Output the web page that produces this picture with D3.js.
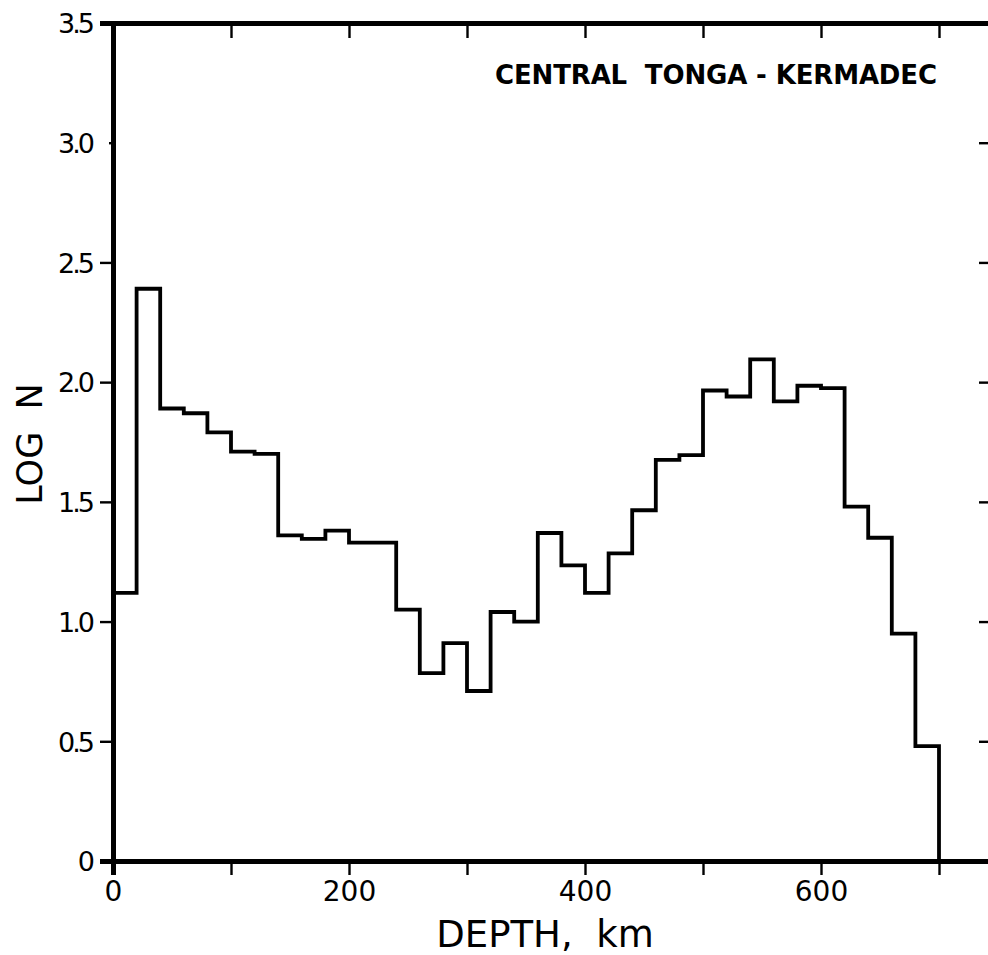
<!DOCTYPE html>
<html>
<head>
<meta charset="utf-8">
<script src="https://cdn.jsdelivr.net/npm/d3@7"></script>
<style>
  html, body { margin: 0; padding: 0; background: #fff; }
  svg { display: block; }
  text { font-family: "DejaVu Sans", sans-serif; fill: #000; white-space: pre; }
</style>
</head>
<body>
<svg id="chart" width="988" height="955"></svg>
<script>
// ---- data ----
const binStarts = [0, 20, 40, 60, 80, 100, 120, 140, 160, 180, 200, 220, 240, 260, 280, 300, 320, 340,
                   360, 380, 400, 420, 440, 460, 480, 500, 520, 540, 560, 580, 600, 620, 640, 660, 680];
const binWidth = 20;
const logN = [1.12, 2.39, 1.89, 1.87, 1.79, 1.71, 1.70, 1.36, 1.345, 1.38, 1.33, 1.33, 1.05, 0.785,
              0.91, 0.71, 1.04, 1.00, 1.37, 1.235, 1.12, 1.285, 1.465, 1.675, 1.695, 1.965, 1.94,
              2.095, 1.92, 1.985, 1.975, 1.48, 1.35, 0.95, 0.48];
const xTicks = [0, 100, 200, 300, 400, 500, 600, 700];
const xTickLabels = ["0", "", "200", "", "400", "", "600", ""];
const yTicks = [0, 0.5, 1.0, 1.5, 2.0, 2.5, 3.0, 3.5];
const yTickLabels = ["0", "0.5", "1.0", "1.5", "2.0", "2.5", "3.0", "3.5"];
const chartTitle = "CENTRAL  TONGA - KERMADEC";
const xTitle = "DEPTH,  km";
const yTitle = "LOG  N";

// ---- layout ----
const svg = d3.select("#chart");
const x = d3.scaleLinear().domain([0, 750]).range([113, 998]);
const y = d3.scaleLinear().domain([0, 3.5]).range([861, 23]);

// histogram step line
const pts = [[0, 0]];
binStarts.forEach((b, i) => pts.push([b, logN[i]]));
const lastEnd = binStarts[binStarts.length - 1] + binWidth;
pts.push([lastEnd, logN[logN.length - 1]]);
pts.push([lastEnd, 0]);
const line = d3.line().x(d => x(d[0])).y(d => y(d[1])).curve(d3.curveStepAfter);
svg.append("path").attr("d", line(pts))
  .attr("fill", "none").attr("stroke", "#000").attr("stroke-width", 3.8)
  .attr("stroke-linejoin", "miter");

// axes
const gBottom = svg.append("g").attr("transform", `translate(0,${y(0)})`)
  .call(d3.axisBottom(x).tickValues(xTicks).tickSize(14).tickPadding(5)
    .tickFormat((d, i) => xTickLabels[i]));
const gTop = svg.append("g").attr("transform", `translate(0,${y(3.5)})`)
  .call(d3.axisTop(x).tickValues(xTicks.slice(1)).tickSize(-15).tickFormat(""));
const gLeft = svg.append("g").attr("transform", `translate(${x(0)},0)`)
  .call(d3.axisLeft(y).tickValues(yTicks).tickSize(13).tickPadding(8)
    .tickFormat((d, i) => yTickLabels[i]));
const gRight = svg.append("g").attr("transform", `translate(${x(750)},0)`)
  .call(d3.axisRight(y).tickValues(yTicks.slice(1, 7)).tickSize(-19).tickFormat(""));

[gBottom, gTop, gLeft, gRight].forEach(g => {
  g.select(".domain").attr("stroke", "#000").attr("stroke-width", 5);
  g.selectAll(".tick line").attr("stroke", "#000").attr("stroke-width", 2.4);
});
// faint 3.0 tick on left axis as in the reference
gLeft.selectAll(".tick").filter(d => d === 3.0).select("line").attr("x2", -4);

gBottom.selectAll(".tick text").attr("font-size", 28).attr("dy", "0.75em");
gLeft.selectAll(".tick text").attr("font-size", 27).attr("letter-spacing", -3).attr("dy", "0.36em");

// titles
svg.append("text").attr("x", 716).attr("y", 84).attr("text-anchor", "middle")
  .attr("font-size", 26).attr("font-weight", "bold")
  .attr("textLength", 442).attr("lengthAdjust", "spacing")
  .text(chartTitle);
svg.append("text").attr("x", 545).attr("y", 947).attr("text-anchor", "middle")
  .attr("font-size", 37).text(xTitle);
svg.append("text").attr("transform", "translate(42,444) rotate(-90)")
  .attr("text-anchor", "middle").attr("font-size", 35).text(yTitle);
</script>
</body>
</html>
